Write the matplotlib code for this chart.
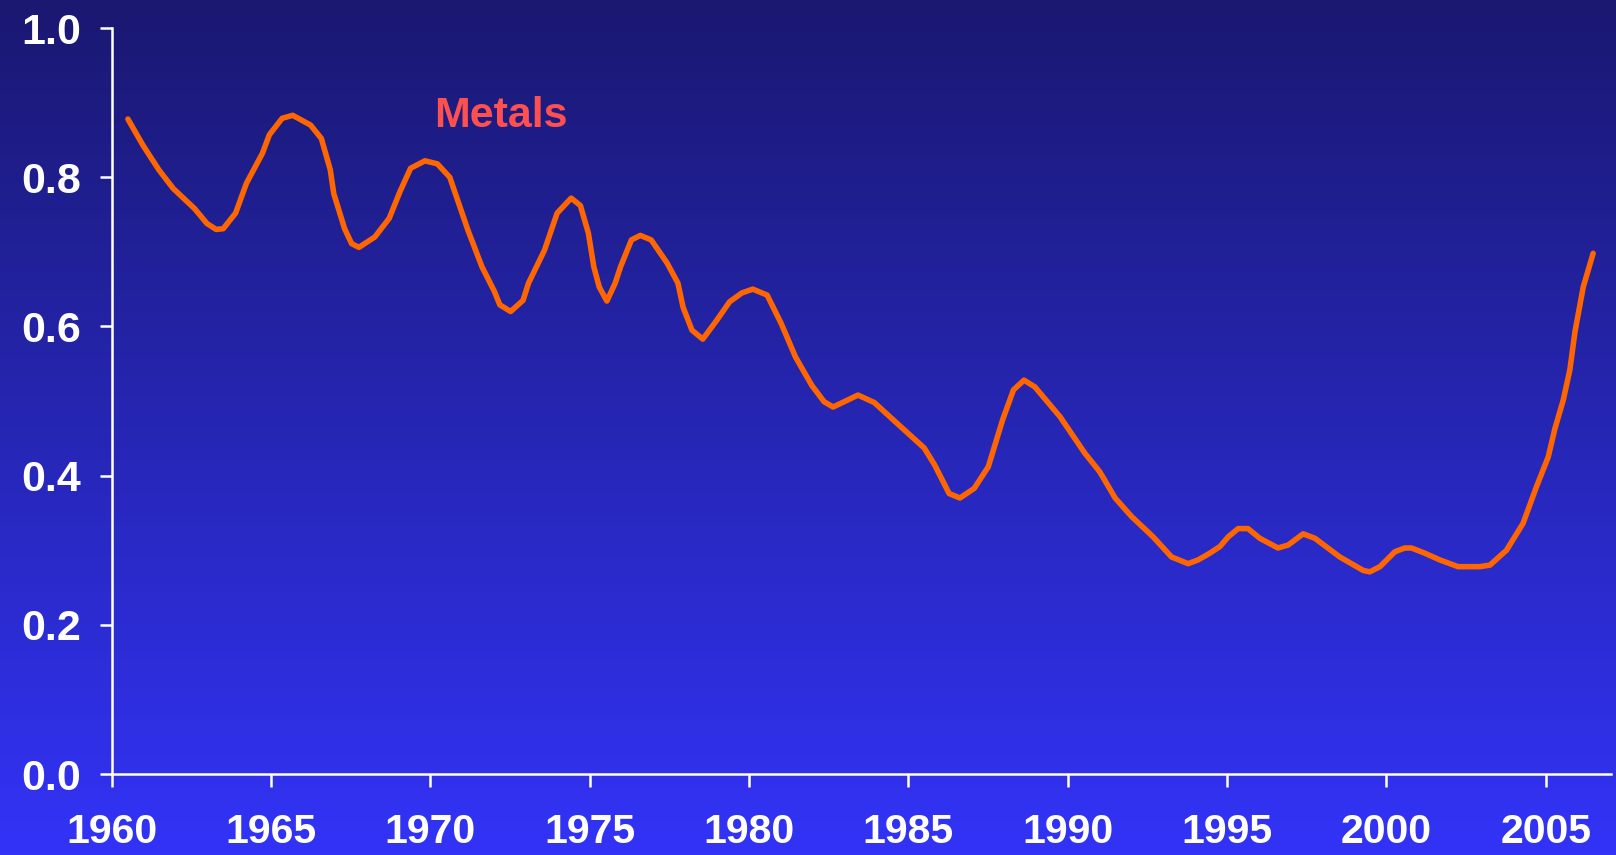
import matplotlib

matplotlib.use("Agg")
import matplotlib.pyplot as plt
import numpy as np
from matplotlib.colors import LinearSegmentedColormap

# metals index
years = [1960.51, 1960.98, 1961.48, 1961.93, 1962.60, 1962.99, 1963.28, 1963.50, 1963.89, 1964.23,
         1964.73, 1964.95, 1965.35, 1965.68, 1966.24, 1966.58, 1966.86, 1966.97, 1967.31, 1967.53,
         1967.76, 1968.26, 1968.71, 1969.05, 1969.38, 1969.83, 1970.22, 1970.61, 1971.18, 1971.62,
         1972.01, 1972.18, 1972.52, 1972.91, 1973.08, 1973.58, 1973.98, 1974.42, 1974.71, 1974.96,
         1975.13, 1975.30, 1975.54, 1975.80, 1975.97, 1976.31, 1976.59, 1976.93, 1977.43, 1977.77,
         1977.93, 1978.21, 1978.55, 1979.00, 1979.39, 1979.78, 1980.12, 1980.57, 1981.01, 1981.46,
         1981.97, 1982.36, 1982.64, 1983.03, 1983.42, 1983.93, 1984.83, 1985.50, 1985.83, 1986.28,
         1986.62, 1987.07, 1987.51, 1987.96, 1988.30, 1988.63, 1988.97, 1989.76, 1990.54, 1991.01,
         1991.49, 1992.01, 1992.68, 1993.26, 1993.78, 1994.09, 1994.46, 1994.78, 1995.04, 1995.35,
         1995.66, 1996.03, 1996.60, 1996.92, 1997.39, 1997.76, 1998.54, 1999.27, 1999.48, 1999.80,
         2000.27, 2000.58, 2000.79, 2001.21, 2001.68, 2002.25, 2002.93, 2003.25, 2003.77, 2004.29,
         2004.71, 2005.08, 2005.29, 2005.55, 2005.76, 2005.92, 2006.18, 2006.49]
metals = [0.878, 0.843, 0.810, 0.785, 0.758, 0.738, 0.730, 0.731, 0.752, 0.792,
          0.832, 0.857, 0.879, 0.883, 0.870, 0.852, 0.810, 0.778, 0.731, 0.711,
          0.706, 0.720, 0.745, 0.781, 0.812, 0.822, 0.818, 0.800, 0.729, 0.680,
          0.647, 0.629, 0.620, 0.635, 0.658, 0.702, 0.752, 0.772, 0.762, 0.725,
          0.680, 0.653, 0.634, 0.658, 0.680, 0.716, 0.722, 0.716, 0.685, 0.658,
          0.626, 0.595, 0.583, 0.609, 0.633, 0.645, 0.650, 0.642, 0.604, 0.559,
          0.521, 0.499, 0.492, 0.500, 0.508, 0.498, 0.463, 0.437, 0.414, 0.376,
          0.370, 0.383, 0.412, 0.475, 0.515, 0.528, 0.519, 0.479, 0.430, 0.405,
          0.370, 0.345, 0.318, 0.291, 0.282, 0.287, 0.296, 0.305, 0.318, 0.329,
          0.329, 0.316, 0.303, 0.307, 0.322, 0.316, 0.291, 0.273, 0.271, 0.278,
          0.298, 0.303, 0.303, 0.296, 0.287, 0.278, 0.278, 0.280, 0.300, 0.336,
          0.385, 0.425, 0.463, 0.501, 0.542, 0.593, 0.653, 0.698]
xticks = [1960, 1965, 1970, 1975, 1980, 1985, 1990, 1995, 2000, 2005]
yticks = [0.0, 0.2, 0.4, 0.6, 0.8, 1.0]

FONT = "Liberation Sans"
WHITE = "white"

fig = plt.figure(figsize=(16.16, 8.55), dpi=100)

# vertical gradient backdrop: dark navy on top, bright blue at bottom
bg = fig.add_axes([0, 0, 1, 1], zorder=0)
grad = np.linspace(0, 1, 256).reshape(-1, 1)
cmap = LinearSegmentedColormap.from_list("bg", ["#1a1870", "#2626b4", "#3333f8"])
bg.imshow(grad, aspect="auto", cmap=cmap, extent=[0, 1, 0, 1], origin="upper")
bg.axis("off")

ax = fig.add_axes([0.0691, 0.0947, 0.9278, 0.8725], zorder=1)
ax.patch.set_alpha(0)
ax.plot(years, metals, color="#ff6600", lw=4.0, solid_joinstyle="round", solid_capstyle="round")
ax.text(1972.2, 0.882, "Metals", color="#ff5050", fontsize=31, fontweight="bold",
        family=FONT, ha="center", va="center")

ax.set_xlim(1960, 2007.05)
ax.set_ylim(0, 1.0)
ax.set_xticks(xticks)
ax.set_yticks(yticks)
ax.set_yticklabels([f"{v:.1f}" for v in yticks])
for side in ("top", "right"):
    ax.spines[side].set_visible(False)
for side in ("left", "bottom"):
    ax.spines[side].set_color(WHITE)
    ax.spines[side].set_linewidth(1.8)
ax.tick_params(colors=WHITE, length=9, width=1.8, direction="out")
ax.tick_params(axis="y", pad=13)
ax.tick_params(axis="x", pad=19)
for lab in ax.get_xticklabels() + ax.get_yticklabels():
    lab.set_family(FONT)
    lab.set_fontweight("bold")
    lab.set_color(WHITE)
for lab in ax.get_yticklabels():
    lab.set_fontsize(31)
for lab in ax.get_xticklabels():
    lab.set_fontsize(29.5)

fig.savefig("out.png", dpi=100)
